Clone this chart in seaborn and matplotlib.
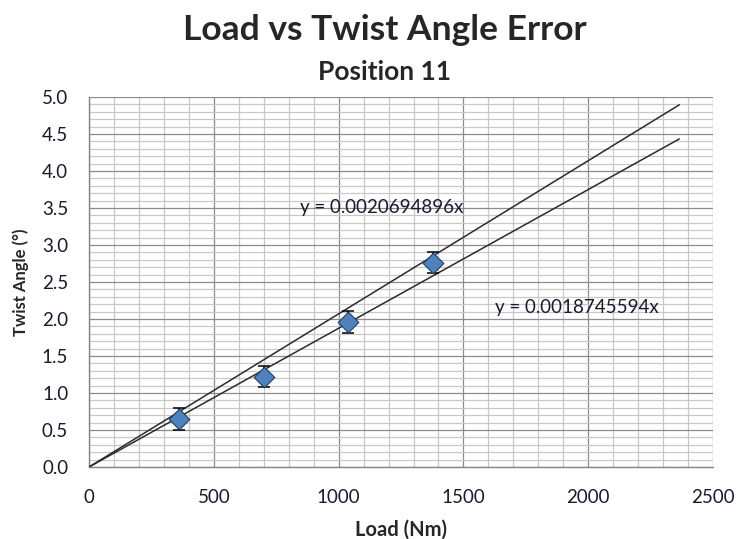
import matplotlib
matplotlib.use("Agg")
import matplotlib.pyplot as plt
import numpy as np
import pandas as pd
import seaborn as sns
from matplotlib.ticker import MultipleLocator

# Measured twist angle at each applied load, with error bar half-widths
loads = [360, 700, 1038, 1377]
angles = [0.65, 1.22, 1.96, 2.76]
errors = [0.145, 0.14, 0.15, 0.14]

# Fitted trend lines through the origin
slope_upper = 0.0020694896
slope_lower = 0.0018745594
fit_x_end = 2365

title = "Load vs Twist Angle Error"
subtitle = "Position 11"
x_label = "Load (Nm)"
y_label = "Twist Angle (°)"
x_ticks = [0, 500, 1000, 1500, 2000, 2500]
y_ticks = [0.0, 0.5, 1.0, 1.5, 2.0, 2.5, 3.0, 3.5, 4.0, 4.5, 5.0]

sns.set_theme(style="white")
plt.rcParams["font.family"] = ["Lato", "DejaVu Sans"]

fig = plt.figure(figsize=(7.37, 5.39), dpi=100)
ax = fig.add_axes([0.1208, 0.1336, 0.8467, 0.6865])

df = pd.DataFrame({"load": loads, "angle": angles, "err": errors})

# Trend lines
fit_x = np.array([0, fit_x_end])
sns.lineplot(x=fit_x, y=slope_upper * fit_x, ax=ax, color="#2b2b2b", lw=1.1, zorder=3)
sns.lineplot(x=fit_x, y=slope_lower * fit_x, ax=ax, color="#2b2b2b", lw=1.1, zorder=3)

# Error bars and data markers
ax.errorbar(df["load"], df["angle"], yerr=df["err"], fmt="none", ecolor="black",
            elinewidth=1.1, capsize=4, capthick=1.1, zorder=4)
sns.scatterplot(data=df, x="load", y="angle", ax=ax, marker="D", s=110,
                color="#4F81BD", edgecolor="#1F3B63", linewidth=0.8, zorder=5)

ax.set_xlim(0, 2500)
ax.set_ylim(0, 5.0)
ax.set_xticks(x_ticks)
ax.set_yticks(y_ticks)
ax.set_yticklabels([f"{v:.1f}" for v in y_ticks])
ax.xaxis.set_minor_locator(MultipleLocator(100))
ax.yaxis.set_minor_locator(MultipleLocator(0.1))

ax.grid(which="major", color="#8c8c8c", lw=0.9, zorder=0)
ax.grid(which="minor", color="#c8c8c8", lw=0.9, zorder=0)
ax.set_axisbelow(True)

for side in ["top", "right"]:
    ax.spines[side].set_visible(False)
for side in ["left", "bottom"]:
    ax.spines[side].set_color("#868686")
    ax.spines[side].set_linewidth(1.0)

ax.tick_params(axis="both", which="major", direction="out", length=5, width=1,
               color="#868686", labelsize=13.5, labelcolor="#1a1a2e")
ax.tick_params(axis="x", which="major", pad=11)
ax.tick_params(axis="y", which="major", pad=10)
ax.tick_params(which="minor", length=0)

ax.set_xlabel(x_label, fontsize=14.5, fontweight="bold", labelpad=10)
ax.set_ylabel(y_label, fontsize=12, fontweight="bold", labelpad=9)

ax.text(845, 3.5, f"y = {slope_upper:.10f}x", fontsize=13.5, color="#1a1a2e",
        va="center", ha="left", zorder=6)
ax.text(1627, 2.15, f"y = {slope_lower:.10f}x", fontsize=13.5, color="#1a1a2e",
        va="center", ha="left", zorder=6)

fig.text(0.522, 0.944, title, fontsize=25.5, fontweight="bold", ha="center", va="center")
fig.text(0.522, 0.866, subtitle, fontsize=19, fontweight="bold", ha="center", va="center")

fig.savefig("out.png", dpi=100)
